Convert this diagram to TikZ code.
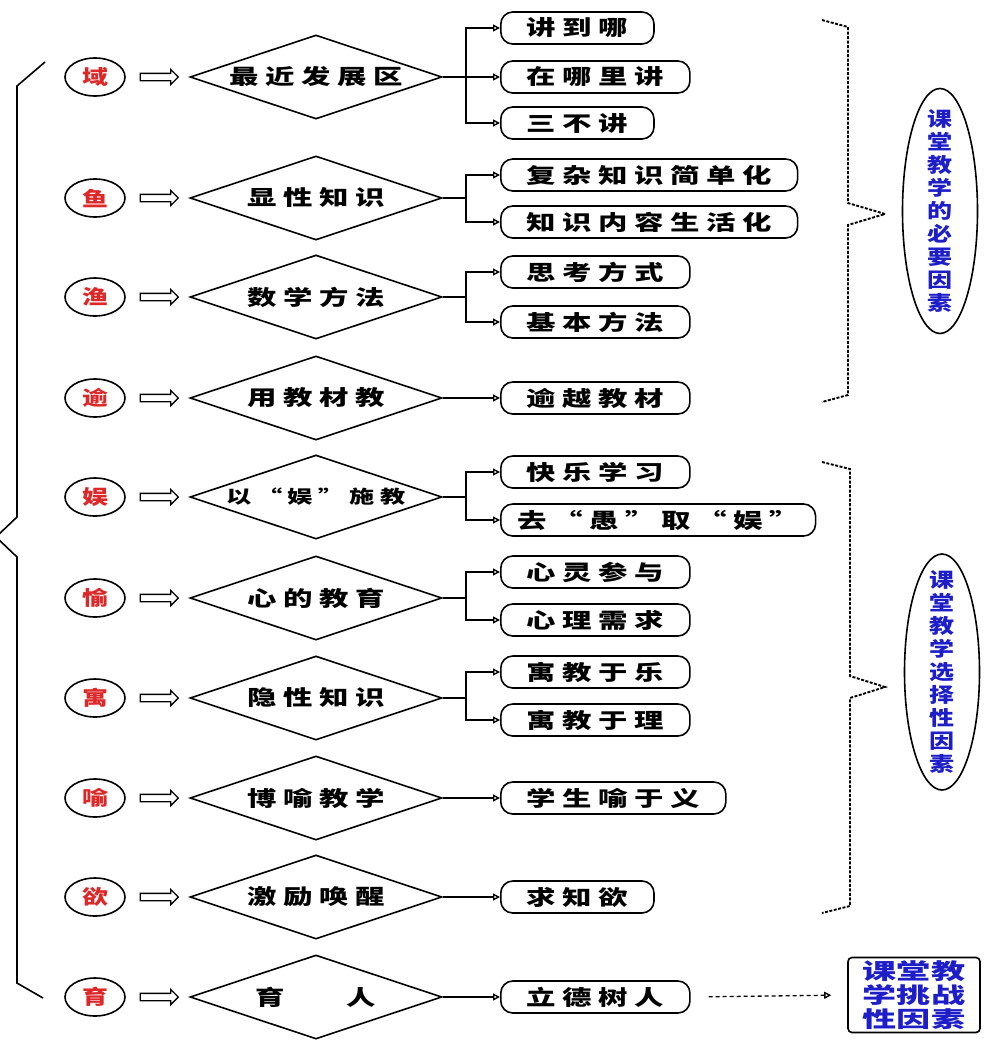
\documentclass[tikz,border=0pt]{standalone}
\usepackage{fontspec}
\usepackage{xcolor}
\usetikzlibrary{shapes.geometric,shapes.arrows,arrows.meta}
\newfontfamily\cjk[FakeStretch=1.4,LetterSpace=31]{Noto Sans CJK SC}
\newfontfamily\cjkr[FakeStretch=1.3]{Noto Sans CJK SC}
\newfontfamily\cjkv[FakeStretch=1.25]{Noto Sans CJK SC}
\newfontfamily\cjkt[FakeStretch=1.55]{Noto Sans CJK SC}
\definecolor{cred}{RGB}{220,40,40}
\definecolor{cblue}{RGB}{30,30,200}

\tikzset{
  circ/.style={ellipse, draw, line width=1.6pt, minimum width=60pt, minimum height=38pt, inner sep=0pt, text=cred, font=\cjkr\bfseries\fontsize{20}{22}\selectfont},
  dia/.style={diamond, draw, line width=1.6pt, shape aspect=3, minimum width=252pt, minimum height=84pt, inner sep=0pt, font=\cjk\bfseries\fontsize{21}{23}\selectfont},
  sarr/.style={single arrow, draw, line width=1.3pt, minimum height=38pt, inner sep=3pt, single arrow head extend=4pt},
  box/.style={draw, line width=1.6pt, rounded corners=12pt, anchor=west, minimum height=32pt, inner xsep=26pt, inner ysep=0pt, font=\cjk\bfseries\fontsize{21}{23}\selectfont},
  arr/.style={line width=1.4pt, -{Triangle[open,length=7pt,width=7pt]}},
  brace/.style={line width=1.6pt},
  dbrace/.style={line width=1.9pt, dash pattern=on 3pt off 1.5pt},
  ell/.style={ellipse, draw, line width=1.6pt, minimum width=75pt, inner sep=0pt},
  vtext/.style={align=center, text=cblue, font=\cjkv\bfseries\fontsize{20}{23}\selectfont},
  tbox/.style={draw, line width=1.6pt, rounded corners=4pt, minimum width=132pt, minimum height=75pt, align=center, inner sep=0pt, text=cblue, font=\cjkt\bfseries\fontsize{22}{24}\selectfont},
  darr/.style={line width=1.3pt, dash pattern=on 4pt off 3pt, shorten <=18pt, shorten >=16pt, -{Triangle[open,length=7pt,width=7pt]}}
}

\begin{document}
\begin{tikzpicture}[x=1pt,y=-1pt]
\useasboundingbox (0,0) rectangle (986,1044);

\foreach \i/\y/\c/\t in {1/77/域/最近发展区, 2/198/鱼/显性知识, 3/297/渔/数学方法, 4/398/逾/用教材教,
    5/497/娱/{\fontsize{18}{20}\selectfont 以“娱”施教}, 6/598/愉/心的教育, 7/698/寓/隐性知识,
    8/798/喻/博喻教学, 9/897/欲/激励唤醒, 10/997/育/{育\hspace{62pt}人}}{
  \node[circ] (c\i) at (95,\y) {\c};
  \node[dia] (d\i) at (316,\y) {\t};
  \path (c\i.east) -- node[sarr] {} (d\i.west);
}

\node[box] (b1a) at (500,28) {讲到哪};
\node[box] (b1b) at (500,77) {在哪里讲};
\node[box] (b1c) at (500,123) {三不讲};
\node[box] (b2a) at (500,175) {复杂知识简单化};
\node[box] (b2b) at (500,222) {知识内容生活化};
\node[box] (b3a) at (500,272) {思考方式};
\node[box] (b3b) at (500,322) {基本方法};
\node[box] (b4a) at (500,398) {逾越教材};
\node[box] (b5a) at (500,472) {快乐学习};
\node[box, inner xsep=17pt] (b5b) at (500,520) {去“愚”取“娱”};
\node[box] (b6a) at (500,572) {心灵参与};
\node[box] (b6b) at (500,620) {心理需求};
\node[box] (b7a) at (500,672) {寓教于乐};
\node[box] (b7b) at (500,720) {寓教于理};
\node[box] (b8a) at (500,798) {学生喻于义};
\node[box] (b9a) at (500,897) {求知欲};
\node[box] (b10a) at (500,997) {立德树人};

\foreach \b in {b1a,b1b,b1c}
  \draw[arr] (d1.east) -- ++(23,0) |- (\b.west);
\foreach \i in {2,3,5,6,7}{
  \draw[arr] (d\i.east) -- ++(23,0) |- (b\i a.west);
  \draw[arr] (d\i.east) -- ++(23,0) |- (b\i b.west);
}
\foreach \i in {4,8,9,10}
  \draw[arr] (d\i.east) -- (b\i a.west);

\draw[brace] (45,62) -- (17,86) -- (17,517) -- (-4,537) -- (17,557) -- (17,983) -- (43,998);

\draw[dbrace] (822,20) -- (848,27) -- (848,203) -- (885,214) -- (848,225) -- (848,395) -- (822,402);
\draw[dbrace] (822,462) -- (850,469) -- (850,676) -- (885,687) -- (850,698) -- (850,906) -- (822,913);

\node[ell, minimum height=245pt] (e1) at (940,211) {};
\node[vtext] at (e1) {课\\堂\\教\\学\\的\\必\\要\\因\\素};
\node[ell, minimum height=236pt] (e2) at (942,672) {};
\node[vtext] at (e2) {课\\堂\\教\\学\\选\\择\\性\\因\\素};

\node[tbox] (t1) at (914,995) {课堂教\\学挑战\\性因素};
\draw[darr] (b10a.east) -- (t1.west);
\end{tikzpicture}
\end{document}
